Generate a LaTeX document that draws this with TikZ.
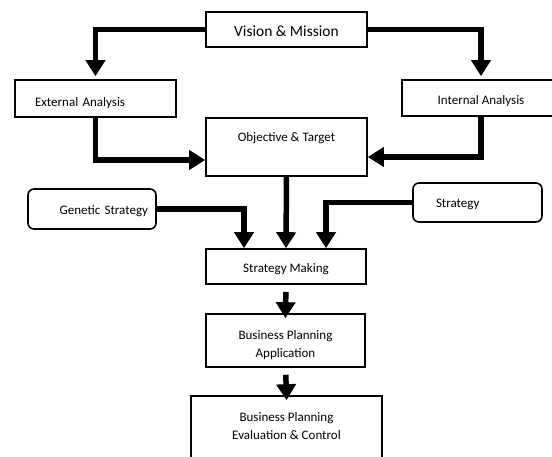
\documentclass[tikz,border=0pt]{standalone}
\usepackage{fontspec}
\setmainfont{Carlito}
\usepackage{tikz}
\usetikzlibrary{arrows.meta, positioning}

\tikzset{
  box/.style={draw, line width=1.6pt, rectangle, inner sep=0pt,
    font=\fontsize{13}{18}\selectfont, text height=14pt, text depth=2pt},
  roundbox/.style={box, rounded corners=6pt},
  flow/.style={line width=5.5pt, -{Triangle[width=19pt,length=16pt]}},
}

\begin{document}
\begin{tikzpicture}[x=1pt, y=-1pt]
        \useasboundingbox (0,0) rectangle (552,457);
        \begin{scope}[every node/.style={box}]
          \node[minimum width=161pt, minimum height=35pt, font=\fontsize{15.5}{18}\selectfont, text height=16pt] (vision) at (286.5,29.5) {Vision \& Mission};
          \node[minimum width=161pt, minimum height=37pt, text width=121pt, align=left, text height=19pt] (external) at (95.5,98.5) {External Analysis};
          \node[minimum width=158pt, minimum height=36pt, text height=16pt] (internal) at (481,98) {Internal Analysis};
          \node[minimum width=161pt, minimum height=58pt, text height=10pt, text depth=20pt] (objective) at (286.5,147) {Objective \& Target};
          \node[roundbox, minimum width=128pt, minimum height=40pt, text width=112pt, align=right] (genetic) at (92,209) {Genetic Strategy};
          \node[roundbox, minimum width=129pt, minimum height=39pt, text width=83pt, align=left, text height=13pt] (strategy) at (477.5,202.5) {Strategy};
          \node[minimum width=160pt, minimum height=35pt, text height=15pt] (making) at (286,266.5) {Strategy Making};
          \node[minimum width=159pt, minimum height=53pt, align=center, text height=36pt, text depth=3pt] (application) at (285.5,340.5) {Business Planning\\Application};
          \node[minimum width=191pt, minimum height=74pt, align=center, text height=28pt, text depth=16pt] (control) at (286.5,433) {Business Planning\\Evaluation \& Control};
        \end{scope}
        \begin{scope}[every path/.style={flow}]
          \draw[shorten >=3pt] (vision.west) -| (external.north);
          \draw[shorten >=3pt] (vision.east) -| (internal.north);
          \draw (external.south) |- ([yshift=-13pt]objective.west);
          \draw (internal.south) |- ([yshift=-10pt]objective.east);
          \draw (genetic.east) -| ([xshift=-42pt]making.north);
          \draw (objective.south) -- (making.north);
          \draw (strategy.west) -| ([xshift=40pt]making.north);
          \draw[shorten <=7pt, shorten >=-5pt] (making.south) -- (application.north);
          \draw[shorten <=7pt, shorten >=-5pt] (application.south) -- (control.north);
        \end{scope}
      \end{tikzpicture}
\end{document}
